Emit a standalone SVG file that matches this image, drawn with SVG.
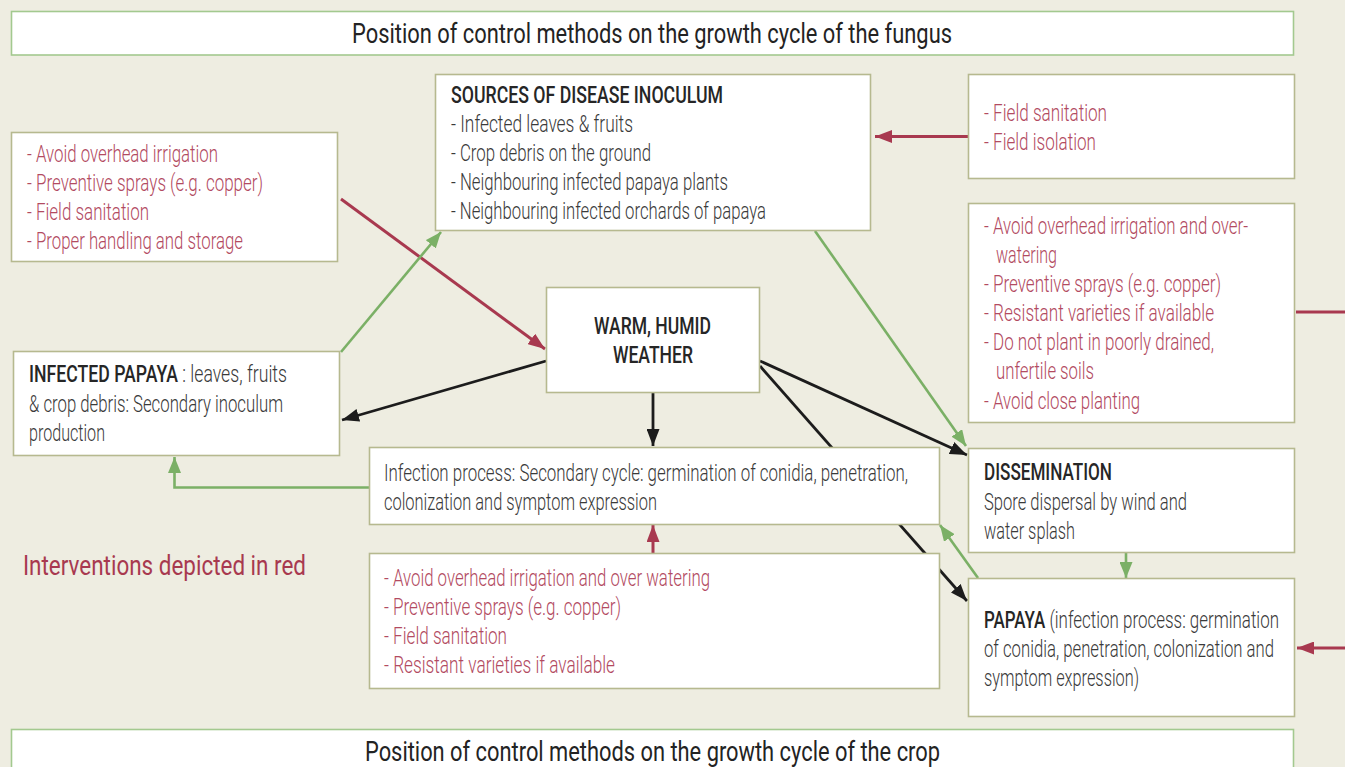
<svg xmlns="http://www.w3.org/2000/svg" width="1345" height="767" viewBox="0 0 1345 767">
  <style>
    text { font-family: Roboto, "Liberation Sans", "DejaVu Sans", sans-serif; }
    .box { fill: #ffffff; stroke: #b6b98f; stroke-width: 1.6; }
    .band { fill: #ffffff; stroke: #a3c98f; stroke-width: 1.6; }
    .title { font-size: 27px; fill: #232323; font-weight: 400; }
    .head { font-size: 23px; fill: #262626; font-weight: 500; }
    .body { font-size: 23px; fill: #3a3a3a; font-weight: 300; }
    .red { font-size: 23px; fill: #b24a61; font-weight: 300; }
    .legend { font-size: 28px; fill: #a8394f; font-weight: 400; }
    .c-red { stroke: #a8394f; stroke-width: 3; fill: none; }
    .c-green { stroke: #7bb066; stroke-width: 2.6; fill: none; }
    .c-black { stroke: #1c1c1c; stroke-width: 2.8; fill: none; }
  </style>
  <defs>
    <marker id="ah-red" markerUnits="userSpaceOnUse" markerWidth="17" markerHeight="13" refX="17" refY="6.5" orient="auto">
      <path d="M0,0 L17,6.5 L0,13 z" fill="#a8394f"/>
    </marker>
    <marker id="ah-green" markerUnits="userSpaceOnUse" markerWidth="16" markerHeight="13" refX="16" refY="6.5" orient="auto">
      <path d="M0,0 L16,6.5 L0,13 z" fill="#7bb066"/>
    </marker>
    <marker id="ah-black" markerUnits="userSpaceOnUse" markerWidth="17" markerHeight="13" refX="17" refY="6.5" orient="auto">
      <path d="M0,0 L17,6.5 L0,13 z" fill="#1c1c1c"/>
    </marker>
  </defs>

  <rect x="0" y="0" width="1345" height="767" fill="#eeede1"/>

  <!-- connectors, drawn beneath the boxes -->
  <g id="connectors">
    <line class="c-red" x1="968" y1="136.5" x2="875" y2="136.5" marker-end="url(#ah-red)"/>
    <line class="c-red" x1="1296" y1="312" x2="1345" y2="312"/>
    <line class="c-red" x1="1345" y1="648" x2="1297" y2="648" marker-end="url(#ah-red)"/>
    <line class="c-red" x1="341" y1="199" x2="545" y2="349" marker-end="url(#ah-red)"/>
    <line class="c-red" x1="653" y1="553" x2="653" y2="525" marker-end="url(#ah-red)"/>

    <line class="c-green" x1="341" y1="352" x2="441" y2="232" marker-end="url(#ah-green)"/>
    <line class="c-green" x1="815" y1="231" x2="966" y2="446" marker-end="url(#ah-green)"/>
    <line class="c-green" x1="1126" y1="553" x2="1126" y2="578" marker-end="url(#ah-green)"/>
    <line class="c-green" x1="978" y1="578" x2="940" y2="525" marker-end="url(#ah-green)"/>
    <path class="c-green" d="M369,487.5 H174.5 V457" marker-end="url(#ah-green)"/>

    <line class="c-black" x1="546" y1="361" x2="342" y2="420" marker-end="url(#ah-black)"/>
    <line class="c-black" x1="653" y1="393" x2="653" y2="446" marker-end="url(#ah-black)"/>
    <line class="c-black" x1="760" y1="361" x2="967" y2="455" marker-end="url(#ah-black)"/>
    <line class="c-black" x1="760" y1="366" x2="967" y2="601" marker-end="url(#ah-black)"/>
  </g>

  <g id="fungus-band">
    <rect class="band" x="11.5" y="11.5" width="1282" height="43.5"/>
    <text class="title" x="352" y="43" textLength="600" lengthAdjust="spacingAndGlyphs">Position of control methods on the growth cycle of the fungus</text>
  </g>

  <g id="crop-band">
    <rect class="band" x="11.5" y="729.5" width="1282" height="50"/>
    <text class="title" x="365" y="761" textLength="575" lengthAdjust="spacingAndGlyphs">Position of control methods on the growth cycle of the crop</text>
  </g>

  <g id="sources">
    <rect class="box" x="435.5" y="74.5" width="435" height="156"/>
    <text class="head" x="451" y="103" textLength="272" lengthAdjust="spacingAndGlyphs">SOURCES OF DISEASE INOCULUM</text>
    <text class="body" x="451" y="132" textLength="182" lengthAdjust="spacingAndGlyphs">- Infected leaves &amp; fruits</text>
    <text class="body" x="451" y="161" textLength="200" lengthAdjust="spacingAndGlyphs">- Crop debris on the ground</text>
    <text class="body" x="451" y="190" textLength="277" lengthAdjust="spacingAndGlyphs">- Neighbouring infected papaya plants</text>
    <text class="body" x="451" y="219" textLength="315" lengthAdjust="spacingAndGlyphs">- Neighbouring infected orchards of papaya</text>
  </g>

  <g id="sanitation-left">
    <rect class="box" x="11.5" y="132.5" width="326" height="129"/>
    <text class="red" x="27" y="162" textLength="191" lengthAdjust="spacingAndGlyphs">- Avoid overhead irrigation</text>
    <text class="red" x="27" y="191" textLength="236" lengthAdjust="spacingAndGlyphs">- Preventive sprays (e.g. copper)</text>
    <text class="red" x="27" y="220" textLength="122" lengthAdjust="spacingAndGlyphs">- Field sanitation</text>
    <text class="red" x="27" y="249" textLength="216" lengthAdjust="spacingAndGlyphs">- Proper handling and storage</text>
  </g>

  <g id="sanitation-right">
    <rect class="box" x="968.5" y="74.5" width="326" height="104"/>
    <text class="red" x="984" y="121" textLength="123" lengthAdjust="spacingAndGlyphs">- Field sanitation</text>
    <text class="red" x="984" y="150" textLength="112" lengthAdjust="spacingAndGlyphs">- Field isolation</text>
  </g>

  <g id="crop-practices">
    <rect class="box" x="968.5" y="203.5" width="326" height="219"/>
    <text class="red" x="984" y="234" textLength="264" lengthAdjust="spacingAndGlyphs">- Avoid overhead irrigation and over-</text>
    <text class="red" x="996" y="263" textLength="61" lengthAdjust="spacingAndGlyphs">watering</text>
    <text class="red" x="984" y="292" textLength="237" lengthAdjust="spacingAndGlyphs">- Preventive sprays (e.g. copper)</text>
    <text class="red" x="984" y="321" textLength="230" lengthAdjust="spacingAndGlyphs">- Resistant varieties if available</text>
    <text class="red" x="984" y="350" textLength="230" lengthAdjust="spacingAndGlyphs">- Do not plant in poorly drained,</text>
    <text class="red" x="996" y="379" textLength="98" lengthAdjust="spacingAndGlyphs">unfertile soils</text>
    <text class="red" x="984" y="409" textLength="156" lengthAdjust="spacingAndGlyphs">- Avoid close planting</text>
  </g>

  <g id="weather">
    <rect class="box" x="546.5" y="287.5" width="213" height="105"/>
    <text class="head" x="594" y="334" textLength="117" lengthAdjust="spacingAndGlyphs">WARM, HUMID</text>
    <text class="head" x="613" y="363" textLength="80" lengthAdjust="spacingAndGlyphs">WEATHER</text>
  </g>

  <g id="infected-papaya">
    <rect class="box" x="13.5" y="351.5" width="326" height="104"/>
    <text class="body" x="29" y="382" textLength="258" lengthAdjust="spacingAndGlyphs"><tspan class="head">INFECTED PAPAYA</tspan> : leaves, fruits</text>
    <text class="body" x="29" y="412" textLength="254" lengthAdjust="spacingAndGlyphs">&amp; crop debris: Secondary inoculum</text>
    <text class="body" x="29" y="441" textLength="76" lengthAdjust="spacingAndGlyphs">production</text>
  </g>

  <g id="infection-process">
    <rect class="box" x="369.5" y="447.5" width="570" height="77"/>
    <text class="body" x="384" y="481" textLength="524" lengthAdjust="spacingAndGlyphs">Infection process: Secondary cycle: germination of conidia, penetration,</text>
    <text class="body" x="384" y="510" textLength="273" lengthAdjust="spacingAndGlyphs">colonization and symptom expression</text>
  </g>

  <g id="infection-controls">
    <rect class="box" x="369.5" y="553.5" width="570" height="135"/>
    <text class="red" x="384" y="586" textLength="326" lengthAdjust="spacingAndGlyphs">- Avoid overhead irrigation and over watering</text>
    <text class="red" x="384" y="615" textLength="237" lengthAdjust="spacingAndGlyphs">- Preventive sprays (e.g. copper)</text>
    <text class="red" x="384" y="644" textLength="123" lengthAdjust="spacingAndGlyphs">- Field sanitation</text>
    <text class="red" x="384" y="673" textLength="231" lengthAdjust="spacingAndGlyphs">- Resistant varieties if available</text>
  </g>

  <g id="dissemination">
    <rect class="box" x="968.5" y="448.5" width="326" height="104"/>
    <text class="head" x="984" y="480" textLength="128" lengthAdjust="spacingAndGlyphs">DISSEMINATION</text>
    <text class="body" x="984" y="510" textLength="203" lengthAdjust="spacingAndGlyphs">Spore dispersal by wind and</text>
    <text class="body" x="984" y="539" textLength="91" lengthAdjust="spacingAndGlyphs">water splash</text>
  </g>

  <g id="papaya">
    <rect class="box" x="968.5" y="578.5" width="326" height="138"/>
    <text class="body" x="984" y="628" textLength="295" lengthAdjust="spacingAndGlyphs"><tspan class="head">PAPAYA</tspan> (infection process: germination</text>
    <text class="body" x="984" y="657" textLength="290" lengthAdjust="spacingAndGlyphs">of conidia, penetration, colonization and</text>
    <text class="body" x="984" y="686" textLength="155" lengthAdjust="spacingAndGlyphs">symptom expression)</text>
  </g>

  <g id="legend">
    <text class="legend" x="23" y="575" textLength="283" lengthAdjust="spacingAndGlyphs">Interventions depicted in red</text>
  </g>
</svg>
